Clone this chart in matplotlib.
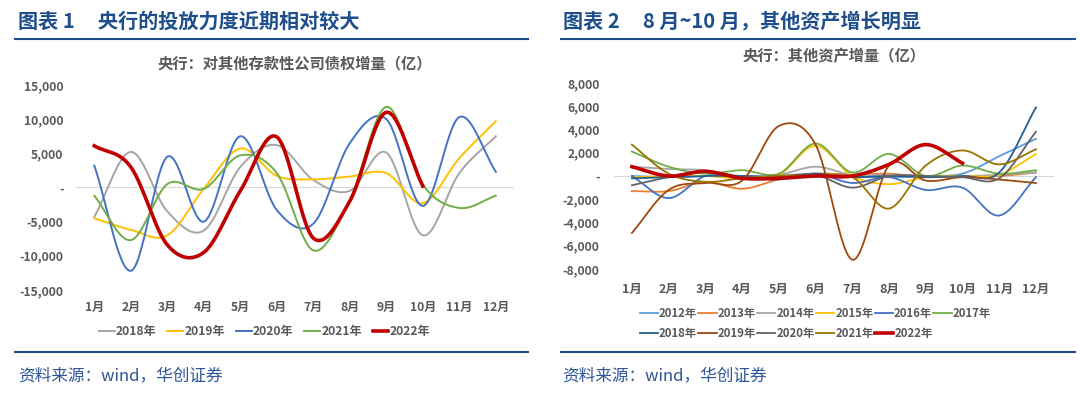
import numpy as np
import matplotlib
matplotlib.use("Agg")
import matplotlib.pyplot as plt
from matplotlib.lines import Line2D
from matplotlib.ticker import FuncFormatter

plt.rcParams['font.family'] = ['Noto Sans CJK SC', 'DejaVu Sans']

months = ["1月", "2月", "3月", "4月", "5月", "6月", "7月", "8月", "9月", "10月", "11月", "12月"]

# 图表1：央行对其他存款性公司债权增量（亿）
left_years = ["2018年", "2019年", "2020年", "2021年", "2022年"]
y2018 = [-4300, 5200, -3500, -6300, 3000, 6200, 1100, -500, 5100, -7000, 2100, 7500]
y2019 = [-4500, -6200, -7000, -200, 5700, 1700, 1200, 1600, 2100, -2300, 4300, 9700]
y2020 = [3200, -12200, 4500, -5000, 7500, -3300, -5300, 6500, 10000, -2700, 10300, 2300]
y2021 = [-1200, -7700, 500, -200, 4700, 2100, -9200, -1800, 11800, 400, -3000, -1200]
y2022 = [6100, 3000, -8400, -9500, -500, 7400, -7400, -2000, 11000, 200]
left_series = [y2018, y2019, y2020, y2021, y2022]
left_colors = ["#A5A5A5", "#FFC000", "#4472C4", "#70AD47", "#C00000"]

# 图表2：央行其他资产增量（亿）
right_years = ["2012年", "2013年", "2014年", "2015年", "2016年", "2017年",
               "2018年", "2019年", "2020年", "2021年", "2022年"]
r2012 = [0, -100, 0, 0, 0, 0, 0, -100, 0, 200, 1700, 3200]
r2013 = [-1300, -1300, -500, -1100, -300, 200, 100, 200, -100, 0, 0, 300]
r2014 = [800, 600, 500, 0, 100, 800, 100, 100, 0, 0, 100, 300]
r2015 = [-100, 0, 0, -200, 100, 2600, 0, -700, -100, 0, 100, 1900]
r2016 = [0, -1900, 0, -100, -300, 200, -600, -100, -1200, -1000, -3400, -100]
r2017 = [2100, 800, 200, 500, 200, 2800, 300, 1900, 0, 900, 200, 500]
r2018 = [-200, -100, 0, 0, -100, 200, -100, 0, -100, 0, 300, 5900]
r2019 = [-4900, -1200, -600, -400, 4300, 2700, -7200, 900, -400, -100, -300, -600]
r2020 = [-800, -100, 400, -100, 0, 100, -1000, 0, 0, -100, -200, 3800]
r2021 = [2700, 200, -500, -200, 0, 0, -100, -2800, 900, 2200, 1000, 2300]
r2022 = [800, 0, 400, -200, -200, 0, 0, 1000, 2700, 1100]
right_series = [r2012, r2013, r2014, r2015, r2016, r2017, r2018, r2019, r2020, r2021, r2022]
right_colors = ["#5B9BD5", "#ED7D31", "#A5A5A5", "#FFC000", "#4472C4", "#70AD47",
                "#255E91", "#9E480E", "#636363", "#997300", "#C00000"]


def smooth(vals, n=30):
    # Catmull-Rom 曲线，模拟 Excel 平滑线
    y = np.asarray(vals, dtype=float)
    x = np.arange(1, len(y) + 1, dtype=float)
    p = np.concatenate([[2 * y[0] - y[1]], y, [2 * y[-1] - y[-2]]])
    xs, ys = [], []
    for i in range(len(y) - 1):
        p0, p1, p2, p3 = p[i], p[i + 1], p[i + 2], p[i + 3]
        t = np.linspace(0, 1, n, endpoint=False)
        yy = 0.5 * ((2 * p1) + (-p0 + p2) * t + (2 * p0 - 5 * p1 + 4 * p2 - p3) * t ** 2
                    + (-p0 + 3 * p1 - 3 * p2 + p3) * t ** 3)
        xs.append(x[i] + t)
        ys.append(yy)
    xs.append([x[-1]])
    ys.append([y[-1]])
    return np.concatenate(xs), np.concatenate(ys)


def fmt(v, pos):
    if abs(v) < 1e-9:
        return "-"
    return "{:,.0f}".format(v)


tick_color = "#595959"
blue = "#1F4E8C"

fig = plt.figure(figsize=(10.8, 3.99), dpi=100)


def setup(ax, lim, step, title):
    ax.set_xlim(0.5, 12.5)
    ax.set_ylim(-lim, lim)
    ax.set_yticks(np.arange(-lim, lim + 1, step))
    ax.yaxis.set_major_formatter(FuncFormatter(fmt))
    ax.set_xticks(range(1, 13))
    ax.set_xticklabels(months)
    for s in ax.spines.values():
        s.set_visible(False)
    ax.tick_params(length=0, labelsize=8.7, colors=tick_color, pad=9)
    for lab in ax.get_xticklabels() + ax.get_yticklabels():
        lab.set_fontweight("bold")
    ax.axhline(0, color="#D9D9D9", lw=0.8, zorder=0)
    ax.set_title(title, fontsize=11, color=tick_color, fontweight="bold", pad=12)


# 左图
ax1 = fig.add_axes([0.0704, 0.2732, 0.4056, 0.5138])
for vals, c, lab in zip(left_series, left_colors, left_years):
    xs, ys = smooth(vals)
    lw = 2.6 if lab == "2022年" else 1.4
    ax1.plot(xs, ys, color=c, lw=lw, label=lab)
setup(ax1, 15000, 5000, "央行：对其他存款性公司债权增量（亿）")
ax1.tick_params(axis="x", pad=8)
handles = [Line2D([], [], color=c, lw=(2.6 if l == "2022年" else 1.4)) for c, l in zip(left_colors, left_years)]
leg1 = fig.legend(handles, left_years, loc="center", bbox_to_anchor=(0.245, 0.168), ncol=5,
                  frameon=False, fontsize=8.7, handlelength=1.3, handletextpad=0.1,
                  columnspacing=0.9, labelcolor=tick_color)
for t in leg1.get_texts():
    t.set_fontweight("bold")

# 右图
ax2 = fig.add_axes([0.5681, 0.3258, 0.4081, 0.4662])
for vals, c, lab in zip(right_series, right_colors, right_years):
    xs, ys = smooth(vals)
    lw = 2.6 if lab == "2022年" else 1.3
    ax2.plot(xs, ys, color=c, lw=lw, label=lab)
setup(ax2, 8000, 2000, "央行：其他资产增量（亿）")
ax2.set_title(ax2.get_title(), fontsize=11, color=tick_color, fontweight="bold", pad=16)
ax2.tick_params(axis="x", pad=10, labelsize=9)
ax2.tick_params(axis="y", pad=10)
handles2 = [Line2D([], [], color=c, lw=(2.6 if l == "2022年" else 1.3)) for c, l in zip(right_colors, right_years)]
leg2 = fig.legend(handles2[:6], right_years[:6], loc="center left", bbox_to_anchor=(0.587, 0.215), ncol=6,
                  frameon=False, fontsize=8.2, handlelength=1.6, handletextpad=0.1,
                  columnspacing=0.1, labelcolor=tick_color, borderpad=0)
leg3 = fig.legend(handles2[6:], right_years[6:], loc="center left", bbox_to_anchor=(0.587, 0.163), ncol=5,
                  frameon=False, fontsize=8.2, handlelength=1.6, handletextpad=0.1,
                  columnspacing=0.1, labelcolor=tick_color, borderpad=0)
for lg in (leg2, leg3):
    for t in lg.get_texts():
        t.set_fontweight("bold")

# 标题、分隔线、来源
fig.text(0.017, 0.948, "图表 1     央行的投放力度近期相对较大", fontsize=14.5, color=blue,
         fontweight="bold", va="center")
fig.text(0.521, 0.948, "图表 2     8 月~10 月，其他资产增长明显", fontsize=14.5, color=blue,
         fontweight="bold", va="center")
for x0, x1 in [(0.014, 0.489), (0.519, 0.995)]:
    fig.add_artist(Line2D([x0, x1], [0.902, 0.902], color=blue, lw=1.5, transform=fig.transFigure))
    fig.add_artist(Line2D([x0, x1], [0.118, 0.118], color=blue, lw=1.5, transform=fig.transFigure))
fig.text(0.017, 0.058, "资料来源：wind，华创证券", fontsize=12, color="#2E5597", style="italic", va="center")
fig.text(0.521, 0.058, "资料来源：wind，华创证券", fontsize=12, color="#2E5597", style="italic", va="center")

fig.savefig("out.png", dpi=100, facecolor="white")
